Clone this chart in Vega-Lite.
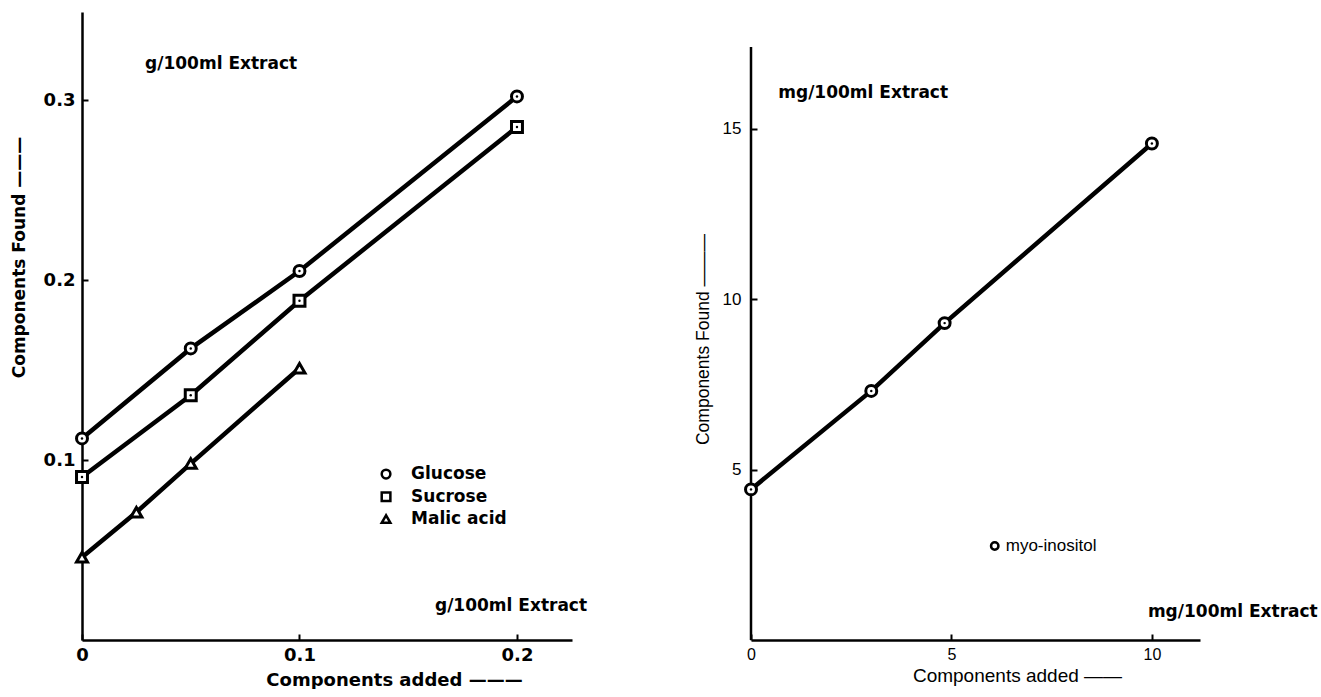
{
  "$schema": "https://vega.github.io/schema/vega-lite/v6.json",
  "background": "white",
  "autosize": {"type": "pad"},
  "padding": {"left": 10, "top": 12, "right": 0, "bottom": 0},
  "spacing": 179,
  "bounds": "flush",
  "config": {
    "view": {"stroke": null},
    "axis": {
      "grid": false,
      "domainColor": "black",
      "domainWidth": 2.5,
      "tickColor": "black",
      "tickWidth": 2,
      "tickSize": -6,
      "labelColor": "black",
      "titleColor": "black"
    }
  },
  "datasets": {
    "left": [
      {"component": "Glucose", "x": 0, "y": 0.112},
      {"component": "Glucose", "x": 0.05, "y": 0.162},
      {"component": "Glucose", "x": 0.1, "y": 0.205},
      {"component": "Glucose", "x": 0.2, "y": 0.302},
      {"component": "Sucrose", "x": 0, "y": 0.0906},
      {"component": "Sucrose", "x": 0.05, "y": 0.136},
      {"component": "Sucrose", "x": 0.1, "y": 0.1885},
      {"component": "Sucrose", "x": 0.2, "y": 0.285},
      {"component": "Malic acid", "x": 0, "y": 0.046},
      {"component": "Malic acid", "x": 0.025, "y": 0.071},
      {"component": "Malic acid", "x": 0.05, "y": 0.098},
      {"component": "Malic acid", "x": 0.1, "y": 0.151}
    ],
    "leftKey": [
      {"component": "Glucose", "x": 0.1398, "y": 0.0922},
      {"component": "Sucrose", "x": 0.1398, "y": 0.0796},
      {"component": "Malic acid", "x": 0.1398, "y": 0.0672}
    ],
    "leftNotes": [
      {"label": "g/100ml Extract", "x": 0.029, "y": 0.32},
      {"label": "g/100ml Extract", "x": 0.1623, "y": 0.019}
    ],
    "right": [
      {"component": "myo-inositol", "x": 0, "y": 4.42},
      {"component": "myo-inositol", "x": 3.0, "y": 7.31},
      {"component": "myo-inositol", "x": 4.83, "y": 9.3},
      {"component": "myo-inositol", "x": 10, "y": 14.57}
    ],
    "rightNotes": [
      {"label": "mg/100ml Extract", "x": 0.68, "y": 16.05},
      {"label": "mg/100ml Extract", "x": 9.9, "y": 0.81}
    ],
    "rightKey": [
      {"label": "myo-inositol", "x": 6.08, "y": 2.76}
    ],
    "rightAxis": [
      {"x": 0, "y": 0, "y2": 17.4}
    ]
  },
  "hconcat": [
    {
      "width": 490,
      "height": 628,
      "encoding": {
        "x": {
          "field": "x", "type": "quantitative",
          "scale": {"domain": [0, 0.2253], "nice": false, "zero": true},
          "axis": {
            "values": [0, 0.1, 0.2],
            "labelExpr": "datum.value == 0 ? '0' : format(datum.value, '.1f')",
            "labelFont": "DejaVu Sans", "labelFontWeight": "bold", "labelFontSize": 18,
            "labelBaseline": "middle", "labelPadding": 21, "labelFlush": false,
            "title": "Components added  ———",
            "titleFont": "DejaVu Sans", "titleFontWeight": "bold", "titleFontSize": 18,
            "titleX": 312, "titleY": 40, "titleAlign": "center", "titleBaseline": "middle"
          }
        },
        "y": {
          "field": "y", "type": "quantitative",
          "scale": {"domain": [0, 0.3489], "nice": false, "zero": true},
          "axis": {
            "values": [0.1, 0.2, 0.3],
            "format": ".1f",
            "labelFont": "DejaVu Sans", "labelFontWeight": "bold", "labelFontSize": 18,
            "labelBaseline": "middle", "labelPadding": 13, "labelFlush": false,
            "title": "Components Found    ———",
            "titleFont": "DejaVu Sans", "titleFontWeight": "bold", "titleFontSize": 17,
            "titleAngle": -90, "titleX": -63, "titleY": 245, "titleAlign": "center", "titleBaseline": "middle"
          }
        }
      },
      "layer": [
        {
          "data": {"name": "left"},
          "mark": {"type": "line", "color": "black", "strokeWidth": 4.5},
          "encoding": {"detail": {"field": "component"}}
        },
        {
          "data": {"name": "left"},
          "mark": {"type": "point", "filled": true, "fill": "white", "stroke": "black", "strokeWidth": 3, "opacity": 1, "size": 120},
          "encoding": {
            "shape": {
              "field": "component", "type": "nominal",
              "scale": {"domain": ["Glucose", "Sucrose", "Malic acid"], "range": ["circle", "square", "triangle-up"]},
              "legend": null
            }
          }
        },
        {
          "data": {"name": "left"},
          "transform": [{"filter": "datum.component != 'Malic acid'"}],
          "mark": {"type": "circle", "color": "black", "size": 6, "opacity": 1}
        },
        {
          "data": {"name": "leftKey"},
          "mark": {"type": "point", "filled": true, "fill": "white", "stroke": "black", "strokeWidth": 2.5, "opacity": 1, "size": 75},
          "encoding": {
            "shape": {"field": "component", "type": "nominal", "legend": null}
          }
        },
        {
          "data": {"name": "leftKey"},
          "mark": {"type": "text", "align": "left", "baseline": "middle", "dx": 25, "font": "DejaVu Sans", "fontWeight": "bold", "fontSize": 17, "color": "black"},
          "encoding": {"text": {"field": "component"}}
        },
        {
          "data": {"name": "leftNotes"},
          "mark": {"type": "text", "align": "left", "baseline": "middle", "font": "DejaVu Sans", "fontWeight": "bold", "fontSize": 17, "color": "black"},
          "encoding": {"text": {"field": "label"}}
        }
      ]
    },
    {
      "width": 449,
      "height": 628,
      "encoding": {
        "x": {
          "field": "x", "type": "quantitative",
          "scale": {"domain": [0, 11.2], "nice": false, "zero": true},
          "axis": {
            "values": [0, 5, 10],
            "format": "d",
            "labelFont": "Liberation Sans", "labelFontSize": 16,
            "labelBaseline": "middle", "labelPadding": 20, "labelFlush": false,
            "title": "Components  added ——",
            "titleFont": "Liberation Sans", "titleFontWeight": "normal", "titleFontSize": 19,
            "titleX": 266, "titleY": 35, "titleAlign": "center", "titleBaseline": "middle"
          }
        },
        "y": {
          "field": "y", "type": "quantitative",
          "scale": {"domain": [0, 18.43], "nice": false, "zero": true},
          "axis": {
            "values": [5, 10, 15],
            "format": "d",
            "domain": false,
            "labelFont": "Liberation Sans", "labelFontSize": 17,
            "labelBaseline": "middle", "labelPadding": 16, "labelFlush": false,
            "title": "Components Found    ———",
            "titleFont": "Liberation Sans", "titleFontWeight": "normal", "titleFontSize": 17.5,
            "titleAngle": -90, "titleX": -48, "titleY": 327, "titleAlign": "center", "titleBaseline": "middle"
          }
        }
      },
      "layer": [
        {
          "data": {"name": "rightAxis"},
          "mark": {"type": "rule", "color": "black", "strokeWidth": 2.5},
          "encoding": {"y2": {"field": "y2"}}
        },
        {
          "data": {"name": "right"},
          "mark": {"type": "line", "color": "black", "strokeWidth": 4.5}
        },
        {
          "data": {"name": "right"},
          "mark": {"type": "point", "shape": "circle", "filled": true, "fill": "white", "stroke": "black", "strokeWidth": 3, "opacity": 1, "size": 120}
        },
        {
          "data": {"name": "right"},
          "mark": {"type": "circle", "color": "black", "size": 6, "opacity": 1}
        },
        {
          "data": {"name": "rightNotes"},
          "mark": {"type": "text", "align": "left", "baseline": "middle", "font": "DejaVu Sans", "fontWeight": "bold", "fontSize": 17, "color": "black"},
          "encoding": {"text": {"field": "label"}}
        },
        {
          "data": {"name": "rightKey"},
          "mark": {"type": "point", "shape": "circle", "filled": true, "fill": "white", "stroke": "black", "strokeWidth": 2.5, "opacity": 1, "size": 55}
        },
        {
          "data": {"name": "rightKey"},
          "mark": {"type": "text", "align": "left", "baseline": "middle", "dx": 11, "font": "Liberation Sans", "fontSize": 17, "color": "black"},
          "encoding": {"text": {"field": "label"}}
        }
      ]
    }
  ]
}
